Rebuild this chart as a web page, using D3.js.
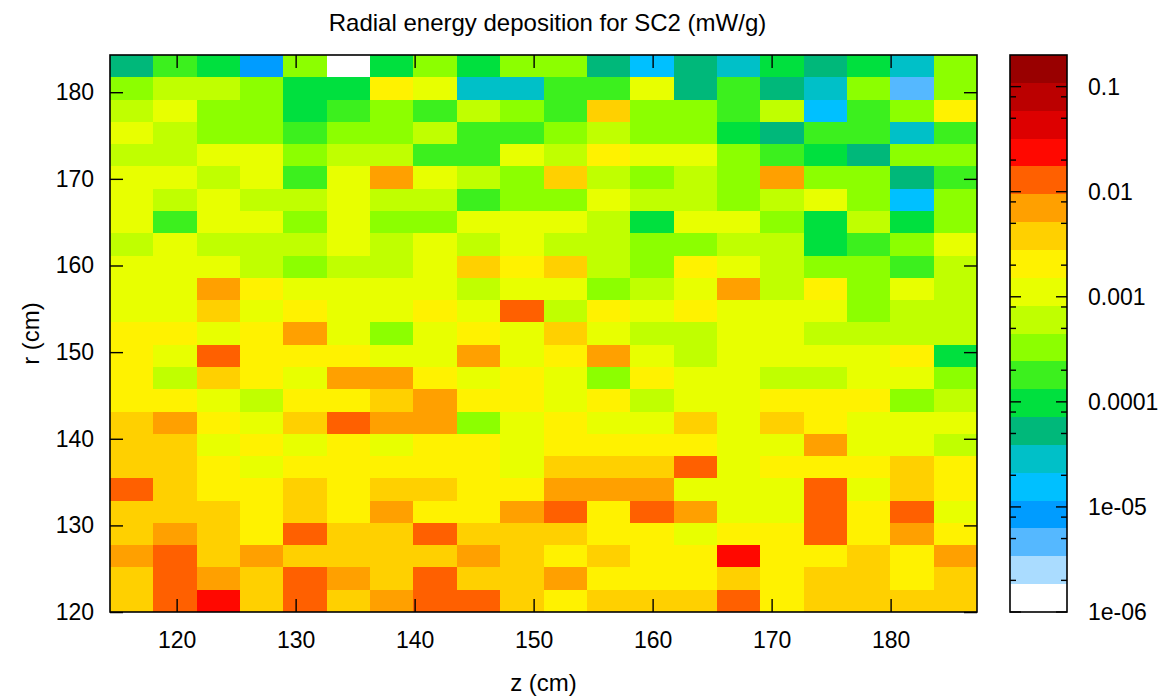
<!DOCTYPE html>
<html>
<head>
<meta charset="utf-8">
<script src="https://cdn.jsdelivr.net/npm/d3@7"></script>
<style>
  html, body { margin: 0; padding: 0; background: #ffffff; }
  svg { display: block; font-family: "Liberation Sans", Arial, Helvetica, sans-serif; }
</style>
</head>
<body>
<svg id="chart" width="1162" height="698"></svg>
<script>
// Bin centres of the scoring mesh (cm)
const zCenters = [116.22, 119.86, 123.51, 127.15, 130.79, 134.44, 138.08, 141.72, 145.37, 149.01,
                  152.65, 156.30, 159.94, 163.58, 167.22, 170.87, 174.51, 178.15, 181.80, 185.44];
// listed from the outermost radius inwards, same order as the rows of edep
const rCenters = [183.01, 180.44, 177.86, 175.29, 172.72, 170.15, 167.58, 165.01, 162.43, 159.86,
                  157.29, 154.72, 152.15, 149.58, 147.00, 144.43, 141.86, 139.29, 136.72, 134.15,
                  131.57, 129.00, 126.43, 123.86, 121.29];

// Energy deposition in SC2 (mW/g), one row per r bin, one column per z bin
const edep = [
  [5.3e-5,1.8e-4,9.7e-5,8.5e-6,3.3e-4,1.4e-6,9.7e-5,3.3e-4,9.7e-5,3.3e-4,3.3e-4,5.3e-5,1.6e-5,5.3e-5,2.9e-5,9.7e-5,5.3e-5,9.7e-5,2.9e-5,3.3e-4],
  [3.3e-4,6.1e-4,6.1e-4,3.3e-4,9.7e-5,9.7e-5,2.1e-3,1.1e-3,2.9e-5,2.9e-5,1.8e-4,1.8e-4,1.1e-3,5.3e-5,1.8e-4,5.3e-5,2.9e-5,3.3e-4,4.6e-6,3.3e-4],
  [6.1e-4,1.1e-3,3.3e-4,3.3e-4,9.7e-5,1.8e-4,3.3e-4,1.8e-4,6.1e-4,3.3e-4,1.8e-4,3.8e-3,3.3e-4,3.3e-4,1.8e-4,6.1e-4,1.6e-5,1.8e-4,3.3e-4,2.1e-3],
  [1.1e-3,6.1e-4,3.3e-4,3.3e-4,1.8e-4,3.3e-4,3.3e-4,6.1e-4,1.8e-4,1.8e-4,3.3e-4,6.1e-4,3.3e-4,3.3e-4,9.7e-5,5.3e-5,1.8e-4,1.8e-4,2.9e-5,1.8e-4],
  [6.1e-4,6.1e-4,1.1e-3,1.1e-3,3.3e-4,6.1e-4,6.1e-4,1.8e-4,1.8e-4,1.1e-3,6.1e-4,2.1e-3,1.1e-3,1.1e-3,3.3e-4,1.8e-4,9.7e-5,5.3e-5,3.3e-4,3.3e-4],
  [1.1e-3,1.1e-3,6.1e-4,1.1e-3,1.8e-4,1.1e-3,7.0e-3,1.1e-3,6.1e-4,3.3e-4,3.8e-3,6.1e-4,3.3e-4,6.1e-4,3.3e-4,7.0e-3,3.3e-4,3.3e-4,5.3e-5,1.8e-4],
  [1.1e-3,6.1e-4,1.1e-3,6.1e-4,6.1e-4,1.1e-3,6.1e-4,6.1e-4,1.8e-4,3.3e-4,3.3e-4,1.1e-3,6.1e-4,6.1e-4,3.3e-4,6.1e-4,1.1e-3,3.3e-4,1.6e-5,3.3e-4],
  [1.1e-3,1.8e-4,1.1e-3,1.1e-3,3.3e-4,1.1e-3,3.3e-4,3.3e-4,1.1e-3,1.1e-3,1.1e-3,6.1e-4,9.7e-5,1.1e-3,1.1e-3,3.3e-4,9.7e-5,6.1e-4,9.7e-5,3.3e-4],
  [6.1e-4,1.1e-3,6.1e-4,6.1e-4,6.1e-4,1.1e-3,6.1e-4,1.1e-3,6.1e-4,1.1e-3,6.1e-4,6.1e-4,3.3e-4,3.3e-4,6.1e-4,6.1e-4,9.7e-5,1.8e-4,3.3e-4,1.1e-3],
  [1.1e-3,1.1e-3,1.1e-3,6.1e-4,3.3e-4,6.1e-4,6.1e-4,1.1e-3,3.8e-3,2.1e-3,3.8e-3,6.1e-4,3.3e-4,2.1e-3,1.1e-3,6.1e-4,3.3e-4,3.3e-4,1.8e-4,6.1e-4],
  [1.1e-3,1.1e-3,7.0e-3,2.1e-3,1.1e-3,1.1e-3,1.1e-3,1.1e-3,6.1e-4,1.1e-3,1.1e-3,3.3e-4,6.1e-4,1.1e-3,7.0e-3,6.1e-4,2.1e-3,3.3e-4,1.1e-3,6.1e-4],
  [1.1e-3,1.1e-3,3.8e-3,1.1e-3,2.1e-3,1.1e-3,1.1e-3,2.1e-3,1.1e-3,1.3e-2,6.1e-4,2.1e-3,1.1e-3,2.1e-3,1.1e-3,1.1e-3,1.1e-3,3.3e-4,6.1e-4,6.1e-4],
  [2.1e-3,2.1e-3,1.1e-3,2.1e-3,7.0e-3,1.1e-3,3.3e-4,1.1e-3,2.1e-3,1.1e-3,3.8e-3,1.1e-3,6.1e-4,6.1e-4,1.1e-3,1.1e-3,6.1e-4,6.1e-4,6.1e-4,6.1e-4],
  [2.1e-3,1.1e-3,1.3e-2,2.1e-3,2.1e-3,2.1e-3,1.1e-3,1.1e-3,7.0e-3,1.1e-3,2.1e-3,7.0e-3,1.1e-3,6.1e-4,1.1e-3,1.1e-3,1.1e-3,1.1e-3,2.1e-3,9.7e-5],
  [2.1e-3,6.1e-4,3.8e-3,2.1e-3,1.1e-3,7.0e-3,7.0e-3,2.1e-3,1.1e-3,2.1e-3,1.1e-3,3.3e-4,2.1e-3,1.1e-3,1.1e-3,6.1e-4,6.1e-4,1.1e-3,1.1e-3,3.3e-4],
  [2.1e-3,2.1e-3,1.1e-3,6.1e-4,2.1e-3,2.1e-3,3.8e-3,7.0e-3,2.1e-3,2.1e-3,1.1e-3,2.1e-3,6.1e-4,1.1e-3,1.1e-3,2.1e-3,2.1e-3,2.1e-3,3.3e-4,6.1e-4],
  [3.8e-3,7.0e-3,2.1e-3,1.1e-3,3.8e-3,1.3e-2,7.0e-3,7.0e-3,3.3e-4,1.1e-3,2.1e-3,1.1e-3,1.1e-3,3.8e-3,1.1e-3,3.8e-3,2.1e-3,1.1e-3,1.1e-3,1.1e-3],
  [3.8e-3,3.8e-3,1.1e-3,2.1e-3,1.1e-3,2.1e-3,1.1e-3,2.1e-3,2.1e-3,1.1e-3,2.1e-3,2.1e-3,2.1e-3,2.1e-3,1.1e-3,1.1e-3,7.0e-3,1.1e-3,1.1e-3,6.1e-4],
  [3.8e-3,3.8e-3,2.1e-3,1.1e-3,2.1e-3,2.1e-3,2.1e-3,2.1e-3,2.1e-3,1.1e-3,3.8e-3,3.8e-3,3.8e-3,1.3e-2,1.1e-3,2.1e-3,2.1e-3,2.1e-3,3.8e-3,2.1e-3],
  [1.3e-2,3.8e-3,2.1e-3,2.1e-3,3.8e-3,2.1e-3,3.8e-3,3.8e-3,2.1e-3,2.1e-3,7.0e-3,7.0e-3,7.0e-3,1.1e-3,1.1e-3,1.1e-3,1.3e-2,1.1e-3,3.8e-3,2.1e-3],
  [3.8e-3,3.8e-3,3.8e-3,2.1e-3,3.8e-3,2.1e-3,7.0e-3,2.1e-3,2.1e-3,7.0e-3,1.3e-2,2.1e-3,1.3e-2,7.0e-3,1.1e-3,1.1e-3,1.3e-2,2.1e-3,1.3e-2,1.1e-3],
  [3.8e-3,7.0e-3,3.8e-3,2.1e-3,1.3e-2,3.8e-3,3.8e-3,1.3e-2,3.8e-3,3.8e-3,3.8e-3,2.1e-3,2.1e-3,1.1e-3,2.1e-3,2.1e-3,1.3e-2,2.1e-3,7.0e-3,2.1e-3],
  [7.0e-3,1.3e-2,3.8e-3,7.0e-3,3.8e-3,3.8e-3,3.8e-3,3.8e-3,7.0e-3,3.8e-3,2.1e-3,3.8e-3,2.1e-3,2.1e-3,2.4e-2,2.1e-3,2.1e-3,3.8e-3,2.1e-3,7.0e-3],
  [3.8e-3,1.3e-2,7.0e-3,3.8e-3,1.3e-2,7.0e-3,3.8e-3,1.3e-2,3.8e-3,3.8e-3,7.0e-3,2.1e-3,2.1e-3,2.1e-3,3.8e-3,2.1e-3,3.8e-3,3.8e-3,2.1e-3,3.8e-3],
  [3.8e-3,1.3e-2,2.4e-2,3.8e-3,1.3e-2,3.8e-3,7.0e-3,1.3e-2,1.3e-2,3.8e-3,2.1e-3,3.8e-3,3.8e-3,3.8e-3,1.3e-2,2.1e-3,3.8e-3,3.8e-3,3.8e-3,3.8e-3]
];

// Axis ticks
const zTicks = [120, 130, 140, 150, 160, 170, 180];
const rTicks = [120, 130, 140, 150, 160, 170, 180];

// Colour box: logarithmic, 20 discrete levels from low to high
const cbRange = [1e-6, 0.2];
const paletteColors = ["#ffffff", "#aadcff", "#55b8ff", "#009cff", "#00c0ff", "#00c0c8", "#00b87a", "#00e03e",
                       "#3cf01e", "#8cff00", "#c0ff00", "#e8ff00", "#fff200", "#ffd000", "#ffa000", "#ff6000",
                       "#ff0800", "#dd0000", "#bb0000", "#990000"];
const cbMajorTicks = [1e-6, 1e-5, 1e-4, 1e-3, 1e-2, 1e-1];
const cbMajorLabels = ["1e-06", "1e-05", "0.0001", "0.001", "0.01", "0.1"];
const cbMinorTicks = [2e-6, 5e-6, 8e-6, 2e-5, 5e-5, 8e-5, 2e-4, 5e-4, 8e-4,
                      2e-3, 5e-3, 8e-3, 2e-2, 5e-2, 8e-2];

const titleText = "Radial energy deposition for SC2 (mW/g)";
const xLabelText = "z (cm)";
const yLabelText = "r (cm)";

// ---------------------------------------------------------------- layout
const plot = { left: 110, top: 55, right: 977, bottom: 612 };
const cbox = { left: 1010, right: 1067, top: 55, bottom: 612 };
const tickLen = 13, cbMajorLen = 11, cbMinorLen = 6;
const tickFont = 23, labelFont = 24;

const svg = d3.select("#chart");

// cell edges from neighbouring bin centres
function edgesFrom(centers) {
  const e = [];
  e.push(centers[0] - (centers[1] - centers[0]) / 2);
  for (let i = 0; i < centers.length - 1; i++) e.push((centers[i] + centers[i + 1]) / 2);
  const n = centers.length;
  e.push(centers[n - 1] + (centers[n - 1] - centers[n - 2]) / 2);
  return e;
}
const zEdges = edgesFrom(zCenters);
const rEdges = edgesFrom(rCenters);            // descending

const x = d3.scaleLinear().domain([zEdges[0], zEdges[zEdges.length - 1]]).range([plot.left, plot.right]);
const y = d3.scaleLinear().domain([d3.min(rEdges), d3.max(rEdges)]).range([plot.bottom, plot.top]);

const logLo = Math.log10(cbRange[0]), logHi = Math.log10(cbRange[1]);
const band = d3.scaleQuantize().domain([logLo, logHi]).range(paletteColors);
const colorOf = v => band(Math.min(logHi, Math.max(logLo, Math.log10(v))));

// ---------------------------------------------------------------- heat map
const cells = [];
edep.forEach((row, i) => row.forEach((v, j) => cells.push({ i, j, v })));

svg.append("g")
  .attr("shape-rendering", "crispEdges")
  .selectAll("rect")
  .data(cells)
  .join("rect")
  .attr("x", d => x(zEdges[d.j]))
  .attr("width", d => x(zEdges[d.j + 1]) - x(zEdges[d.j]))
  .attr("y", d => y(rEdges[d.i]))
  .attr("height", d => y(rEdges[d.i + 1]) - y(rEdges[d.i]))
  .attr("fill", d => colorOf(d.v));

// ---------------------------------------------------------------- axes
function styleAxis(g) {
  g.select(".domain").remove();
  g.selectAll(".tick line").attr("stroke", "#000").attr("stroke-width", 1.4);
  g.selectAll(".tick text").attr("fill", "#000").attr("font-size", tickFont)
    .attr("font-family", "Liberation Sans, Arial, Helvetica, sans-serif");
}

svg.append("g")
  .attr("transform", `translate(0,${plot.bottom})`)
  .call(d3.axisBottom(x).tickValues(zTicks).tickSize(-tickLen).tickPadding(20).tickFormat(d3.format("d")))
  .call(styleAxis);

svg.append("g")
  .attr("transform", `translate(0,${plot.top})`)
  .call(d3.axisTop(x).tickValues(zTicks).tickSize(-tickLen).tickFormat(""))
  .call(styleAxis);

svg.append("g")
  .attr("transform", `translate(${plot.left},0)`)
  .call(d3.axisLeft(y).tickValues(rTicks).tickSize(-tickLen).tickPadding(16).tickFormat(d3.format("d")))
  .call(styleAxis);

svg.append("g")
  .attr("transform", `translate(${plot.right},0)`)
  .call(d3.axisRight(y).tickValues(rTicks).tickSize(-tickLen).tickFormat(""))
  .call(styleAxis);

svg.append("rect")
  .attr("x", plot.left).attr("y", plot.top)
  .attr("width", plot.right - plot.left).attr("height", plot.bottom - plot.top)
  .attr("fill", "none").attr("stroke", "#000").attr("stroke-width", 1.6);

// ---------------------------------------------------------------- colour box
const cb = d3.scaleLog().domain(cbRange).range([cbox.bottom, cbox.top]);

svg.append("g")
  .attr("shape-rendering", "crispEdges")
  .selectAll("rect")
  .data(paletteColors)
  .join("rect")
  .attr("x", cbox.left)
  .attr("width", cbox.right - cbox.left)
  .attr("y", c => cb(Math.pow(10, band.invertExtent(c)[1])))
  .attr("height", c => {
    const [lo, hi] = band.invertExtent(c);
    return cb(Math.pow(10, lo)) - cb(Math.pow(10, hi));
  })
  .attr("fill", c => c);

const cbTicks = svg.append("g").attr("stroke", "#000").attr("stroke-width", 1.4);
[[cbMajorTicks, cbMajorLen], [cbMinorTicks, cbMinorLen]].forEach(([vals, len]) => {
  vals.forEach(v => {
    const yy = cb(v);
    cbTicks.append("line").attr("x1", cbox.left).attr("x2", cbox.left + len).attr("y1", yy).attr("y2", yy);
    cbTicks.append("line").attr("x1", cbox.right).attr("x2", cbox.right - len).attr("y1", yy).attr("y2", yy);
  });
});

svg.append("g")
  .selectAll("text")
  .data(cbMajorTicks)
  .join("text")
  .attr("x", cbox.right + 21)
  .attr("y", v => cb(v))
  .attr("dy", "0.36em")
  .attr("font-size", tickFont)
  .attr("fill", "#000")
  .text((v, i) => cbMajorLabels[i]);

svg.append("rect")
  .attr("x", cbox.left).attr("y", cbox.top)
  .attr("width", cbox.right - cbox.left).attr("height", cbox.bottom - cbox.top)
  .attr("fill", "none").attr("stroke", "#000").attr("stroke-width", 1.6);

// ---------------------------------------------------------------- titles
svg.append("text")
  .attr("x", (plot.left + plot.right) / 2 + 4).attr("y", 31)
  .attr("text-anchor", "middle").attr("font-size", labelFont).attr("fill", "#000")
  .text(titleText);

svg.append("text")
  .attr("x", (plot.left + plot.right) / 2).attr("y", 691)
  .attr("text-anchor", "middle").attr("font-size", labelFont).attr("fill", "#000")
  .text(xLabelText);

svg.append("text")
  .attr("transform", `translate(39,${(plot.top + plot.bottom) / 2}) rotate(-90)`)
  .attr("text-anchor", "middle").attr("font-size", labelFont).attr("fill", "#000")
  .text(yLabelText);
</script>
</body>
</html>
